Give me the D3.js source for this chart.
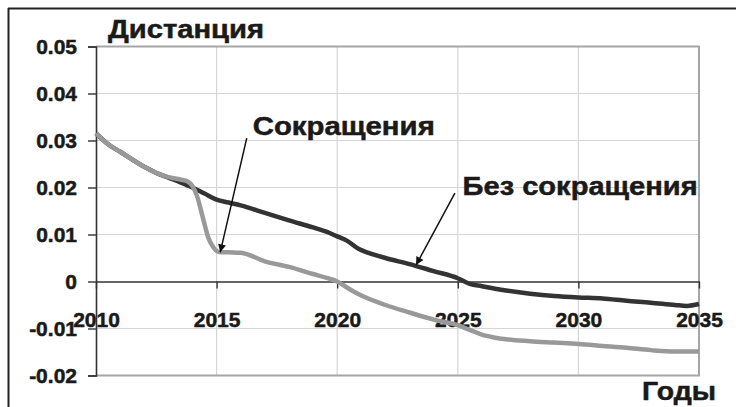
<!DOCTYPE html>
<html>
<head>
<meta charset="utf-8">
<script src="https://cdn.jsdelivr.net/npm/d3@7"></script>
<style>
  html, body { margin: 0; padding: 0; background: #fff; }
  svg { display: block; }
  text { font-family: "Liberation Sans", Arial, sans-serif; font-weight: bold; fill: #1a1a1a; stroke: #1a1a1a; stroke-width: 0.5px; }
</style>
</head>
<body>
<svg id="chart" width="736" height="407"></svg>
<script>
// ---- data ----
const yTicks = [-0.02, -0.01, 0, 0.01, 0.02, 0.03, 0.04, 0.05];
const yTickLabels = ["-0.02", "-0.01", "0", "0.01", "0.02", "0.03", "0.04", "0.05"];
const xTicks = [2010, 2015, 2020, 2025, 2030, 2035];
const xTickLabels = ["2010", "2015", "2020", "2025", "2030", "2035"];

// "Сокращения" (with cuts) — grey line
const cutYears = [2010, 2010.5, 2011, 2012, 2012.5, 2013, 2013.5, 2013.8, 2014, 2014.2, 2014.35, 2014.5, 2014.65, 2014.85, 2015.1, 2015.5, 2016, 2017, 2018, 2019, 2019.6, 2020, 2020.5, 2021, 2022, 2023, 2024, 2025, 2025.5, 2026, 2026.5, 2027, 2028, 2029, 2030, 2031, 2032, 2033, 2034, 2035];
const cutValues = [0.0315, 0.0292, 0.0276, 0.0244, 0.0231, 0.0222, 0.0217, 0.0213, 0.0203, 0.0180, 0.0152, 0.0122, 0.0094, 0.0074, 0.0063, 0.0062, 0.0061, 0.0043, 0.0031, 0.0016, 0.0007, 0.0000, -0.0016, -0.0030, -0.0050, -0.0066, -0.0081, -0.0093, -0.0103, -0.0113, -0.0119, -0.0123, -0.0127, -0.0130, -0.0133, -0.0137, -0.0141, -0.0146, -0.0149, -0.0149];

// "Без сокращения" (no cuts) — dark line
const noCutYears = [2010, 2010.5, 2011, 2012, 2012.5, 2013, 2013.5, 2014, 2014.5, 2015, 2015.5, 2016, 2017, 2018, 2019, 2019.6, 2020, 2020.4, 2020.9, 2021.3, 2022, 2023, 2024, 2025, 2025.5, 2026, 2027, 2028, 2029, 2030, 2031, 2032, 2033, 2034, 2034.5, 2035];
const noCutValues = [0.0315, 0.0292, 0.0276, 0.0244, 0.0231, 0.0221, 0.0211, 0.0200, 0.0187, 0.0174, 0.0168, 0.0162, 0.0146, 0.0130, 0.0115, 0.0105, 0.0096, 0.0087, 0.0069, 0.0061, 0.0050, 0.0037, 0.0022, 0.0007, -0.0005, -0.0010, -0.0019, -0.0026, -0.0031, -0.0034, -0.0036, -0.0041, -0.0045, -0.0050, -0.0052, -0.0048];

const titleText = "Дистанция";
const xTitleText = "Годы";
// annotations: label position, arrow start, arrow tip (data coords)
const annLabels = ["Сокращения", "Без сокращения"];
const annLabelYear = [2016.5, 2025.2];
const annLabelValue = [0.0312, 0.0184];
const annStartYear = [2016.25, 2024.88];
const annStartValue = [0.0305, 0.0188];
const annTipYear = [2015.15, 2023.27];
const annTipValue = [0.0062, 0.0035];

// ---- layout ----
const svg = d3.select("#chart");
const pL = 96, pR = 699, pT = 46.5, pB = 375.5;
const x = d3.scaleLinear().domain([2010, 2035]).range([pL, pR]);
const y = d3.scaleLinear().domain([-0.02, 0.05]).range([pB, pT]);

svg.append("rect").attr("width", 736).attr("height", 407).attr("fill", "#fff");

// outer frame (top + left)
svg.append("line").attr("x1", 8).attr("x2", 736).attr("y1", 8.5).attr("y2", 8.5)
  .attr("stroke", "#222").attr("stroke-width", 2);
svg.append("line").attr("x1", 8.5).attr("x2", 8.5).attr("y1", 8).attr("y2", 407)
  .attr("stroke", "#222").attr("stroke-width", 2);

// gridlines
svg.append("g").selectAll("line").data(yTicks.filter(v => v > -0.02 && v < 0.05 && v !== 0))
  .join("line")
  .attr("x1", pL).attr("x2", pR)
  .attr("y1", d => y(d)).attr("y2", d => y(d))
  .attr("stroke", "#d6d6d6").attr("stroke-width", 1.2);
svg.append("g").selectAll("line").data(xTicks.filter(v => v > 2010 && v < 2035))
  .join("line")
  .attr("x1", d => x(d)).attr("x2", d => x(d))
  .attr("y1", pT).attr("y2", pB)
  .attr("stroke", "#d6d6d6").attr("stroke-width", 1.2);

// plot border top/right/bottom
svg.append("path")
  .attr("d", `M${pL},${pT}H${pR}V${pB}H${pL}`)
  .attr("fill", "none").attr("stroke", "#a6a6a6").attr("stroke-width", 2);

// y axis
const yAxis = d3.axisLeft(y).tickValues(yTicks).tickSize(8).tickPadding(11)
  .tickFormat((d, i) => yTickLabels[i]);
const yg = svg.append("g").attr("transform", `translate(${pL},0)`).call(yAxis);
yg.select(".domain").attr("stroke", "#333").attr("stroke-width", 1.6);
yg.selectAll(".tick line").attr("stroke", "#333").attr("stroke-width", 1.4);
yg.selectAll(".tick text").attr("font-size", 21)
  .style("font-family", '"Liberation Sans", Arial, sans-serif').style("font-weight", "bold");

// x axis at zero
const xAxis = d3.axisBottom(x).tickValues(xTicks).tickSize(7).tickSizeOuter(0)
  .tickFormat((d, i) => xTickLabels[i]);
const xg = svg.append("g").attr("transform", `translate(0,${y(0)})`).call(xAxis);
xg.select(".domain").attr("stroke", "#333").attr("stroke-width", 1.6);
xg.selectAll(".tick line").attr("stroke", "#333").attr("stroke-width", 1.4);
xg.selectAll(".tick text").attr("font-size", 21)
  .attr("y", 45).attr("dy", 0)
  .style("font-family", '"Liberation Sans", Arial, sans-serif').style("font-weight", "bold");

// lines
const line = d3.line().x(d => x(d[0])).y(d => y(d[1])).curve(d3.curveMonotoneX);
svg.append("path").datum(noCutYears.map((yr, i) => [yr, noCutValues[i]]))
  .attr("d", line).attr("fill", "none").attr("stroke", "#333")
  .attr("stroke-width", 4.5).attr("stroke-linejoin", "round");
svg.append("path").datum(cutYears.map((yr, i) => [yr, cutValues[i]]))
  .attr("d", line).attr("fill", "none").attr("stroke", "#999")
  .attr("stroke-width", 4.5).attr("stroke-linejoin", "round");

// arrowhead marker
svg.append("defs").append("marker")
  .attr("id", "arrow").attr("viewBox", "0 0 10 10")
  .attr("refX", 10).attr("refY", 5)
  .attr("markerWidth", 10).attr("markerHeight", 8)
  .attr("markerUnits", "userSpaceOnUse")
  .attr("orient", "auto")
  .append("path").attr("d", "M0,0L10,5L0,10Z").attr("fill", "#111");

annLabels.forEach((t, i) => {
  svg.append("line")
    .attr("x1", x(annStartYear[i])).attr("y1", y(annStartValue[i]))
    .attr("x2", x(annTipYear[i])).attr("y2", y(annTipValue[i]))
    .attr("stroke", "#111").attr("stroke-width", 1.5)
    .attr("marker-end", "url(#arrow)");
});

const annWidths = [182, 235];
annLabels.forEach((t, i) => {
  svg.append("text")
    .attr("x", x(annLabelYear[i])).attr("y", y(annLabelValue[i]))
    .attr("font-size", 26)
    .attr("textLength", annWidths[i]).attr("lengthAdjust", "spacingAndGlyphs")
    .text(t);
});

// titles
svg.append("text").attr("x", 108).attr("y", 37.5).attr("font-size", 25)
  .attr("textLength", 156).attr("lengthAdjust", "spacingAndGlyphs").text(titleText);
svg.append("text").attr("x", 642).attr("y", 399.5).attr("font-size", 26)
  .attr("textLength", 74).attr("lengthAdjust", "spacingAndGlyphs").text(xTitleText);
</script>
</body>
</html>
